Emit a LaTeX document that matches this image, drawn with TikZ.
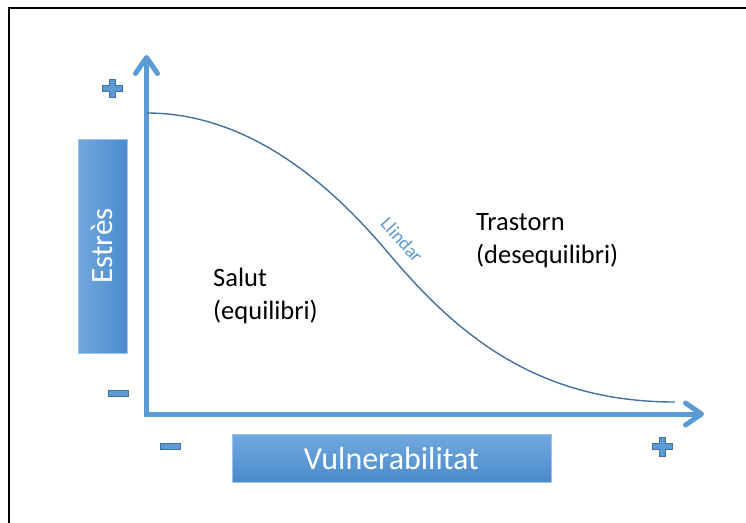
\documentclass[tikz,border=0pt]{standalone}
\usepackage{fontspec}
\setmainfont{Carlito}
\usetikzlibrary{arrows.meta}
\definecolor{axisblue}{HTML}{5B9BD5}
\definecolor{curveblue}{HTML}{41719C}
\definecolor{signedge}{HTML}{41719C}
\definecolor{boxlight}{HTML}{72A8DE}
\definecolor{boxdark}{HTML}{4A8BCD}
\tikzset{
  axis/.style={draw=axisblue, line width=5pt, line cap=butt,
    -{Straight Barb[length=16pt,width=22pt,line width=5pt,round]}},
  labelbox/.style={draw=axisblue!60, line width=0.8pt, inner sep=0pt, text=white},
  regiontext/.style={font=\fontsize{26.5}{33}\selectfont, align=left, anchor=west, inner sep=0pt},
  sign/.style={fill=axisblue, draw=signedge, line width=1pt},
}
\begin{document}
\begin{tikzpicture}[x=1pt,y=-1pt]
\useasboundingbox (0,0) rectangle (746,522);
% outer frame, running off the right and bottom edges
\draw[line width=2.5pt] (9,600) -- (9,8) -- (800,8);

% axes
\coordinate (origin) at (146.5,414);
\coordinate (ytip) at (146.5,55);
\coordinate (xtip) at (704,414);
\draw[axis] (146.5,416.5) -- (ytip);
\draw[axis] (144,414) -- (xtip);

% threshold curve: two cubic pieces meeting at the inflection point
\coordinate (cstart) at (147,113);
\coordinate (cmid) at (390,255);
\coordinate (cend) at (675,402);
\draw[curveblue, line width=1.4pt] (cstart) .. controls (265,113) and (352,210) .. (cmid)
  .. controls (460,338) and (540,402) .. (cend);
\node[text=axisblue, rotate=-48, font=\fontsize{19}{19}\selectfont, inner sep=0pt]
  (llindar) at (402,240) {Llindar};

% region labels
\node[regiontext] (salut) at (213,296) {Salut\\(equilibri)};
\node[regiontext] (trastorn) at (476,241) {Trastorn\\(desequilibri)};

% axis title boxes
\node[labelbox, minimum width=49pt, minimum height=214pt,
  left color=boxlight, right color=boxdark] (estres) at (102.5,246) {};
\node[text=white, rotate=90, font=\fontsize{31}{31}\selectfont, inner sep=0pt]
  (estrestext) at (estres.center) {Estrès};
\node[labelbox, minimum width=319pt, minimum height=48pt,
  top color=boxlight, bottom color=boxdark,
  font=\fontsize{32}{32}\selectfont] (vuln) at (391.5,458) {Vulnerabilitat};

% plus and minus marks
\path[sign] (102,85) -- (109,85) -- (109,79) -- (115,79) -- (115,85) -- (122,85)
  -- (122,91) -- (115,91) -- (115,97) -- (109,97) -- (109,91) -- (102,91) -- cycle;
\path[sign] (652,443.5) -- (659,443.5) -- (659,437) -- (665,437) -- (665,443.5) -- (672,443.5)
  -- (672,449.5) -- (665,449.5) -- (665,456) -- (659,456) -- (659,449.5) -- (652,449.5) -- cycle;
\path[sign] (108,390) rectangle (128,396);
\path[sign] (160,443) rectangle (180,449);
\end{tikzpicture}
\end{document}
